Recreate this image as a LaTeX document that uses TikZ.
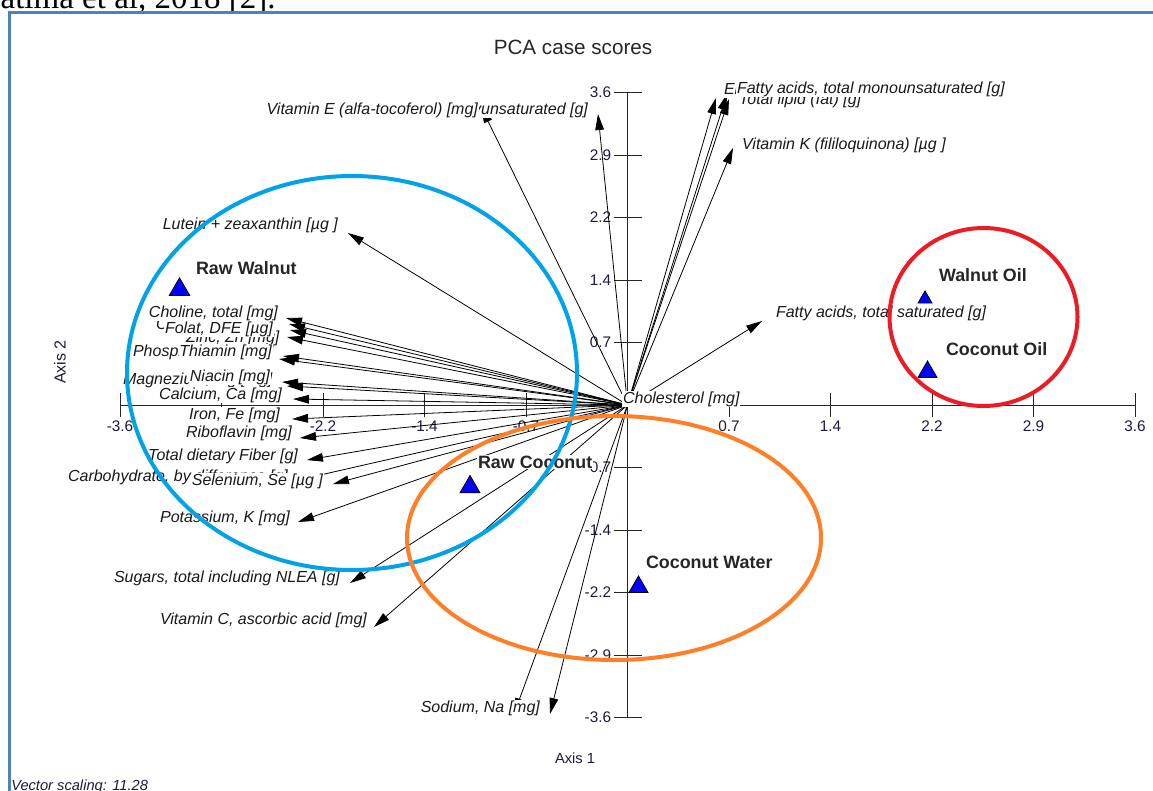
\documentclass[tikz,border=0pt]{standalone}
\usepackage{fontspec}
\setmainfont{Liberation Sans}
\newfontfamily\serifcap{Liberation Serif}
\usetikzlibrary{arrows.meta,shapes.geometric}
\definecolor{paintblue}{RGB}{0,162,232}
\definecolor{paintorange}{RGB}{255,127,39}
\definecolor{paintred}{RGB}{237,28,36}
\definecolor{framecol}{RGB}{79,129,189}
\definecolor{axtext}{RGB}{28,28,60}
\begin{document}
\begin{tikzpicture}[x=0.75pt,y=-0.75pt,
  vec/.style={draw=black, line width=0.6pt, -{Triangle[length=12pt,width=6.5pt]}},
  varlab/.style={font=\fontsize{12}{14}\selectfont\itshape, fill=white, inner sep=0.6pt, text=black!90},
  varL/.style={varlab, anchor=east},
  varR/.style={varlab, anchor=west},
  samplab/.style={font=\fontsize{13.4}{15}\selectfont\bfseries, fill=white, inner sep=0.6pt, anchor=west, text=black!85},
  sampmark/.style={regular polygon, regular polygon sides=3, fill=blue, draw=black, line width=0.6pt, inner sep=0pt},
  ticklab/.style={font=\fontsize{11.5}{13}\selectfont, text=axtext, inner sep=0.5pt},
  axtitle/.style={font=\fontsize{11}{13}\selectfont, text=axtext},
  axisline/.style={draw=black!85, line width=0.75pt},
  ring/.style={line width=3pt},
]
\useasboundingbox (0,0) rectangle (1153,790);
\fill[white] (0,0) rectangle (1153,790);
% caption and frame
\node[anchor=base west, font=\serifcap\fontsize{24.75}{28}\selectfont, inner sep=0pt] (cap) at (-18,8) {Fatima et al, 2018 [2].};
\draw[framecol, line width=1.8pt] (9.5,795) -- (9.5,12.5) -- (1160,12.5);
\node[font=\fontsize{15.5}{18}\selectfont, text=black!85] (title) at (573,47) {PCA case scores};
% axes
\coordinate (O) at (627.5,405);
\coordinate (xl) at (120,405); \coordinate (xr) at (1135,405);
\coordinate (yt) at (627.5,92.5); \coordinate (yb) at (627.5,717.5);
\draw[axisline] (xl) -- (xr);
\draw[axisline] (yt) -- (yb);
\foreach \k in {-5,-4,-3,-2,-1,1,2,3,4,5}{
  \coordinate (xa\k) at (627.5+\k*101.5,393);
  \coordinate (xb\k) at (627.5+\k*101.5,417);
  \draw[axisline] (xa\k) -- (xb\k);
  \coordinate (ya\k) at (613.5,405-\k*62.5);
  \coordinate (yb\k) at (641.5,405-\k*62.5);
  \draw[axisline] (ya\k) -- (yb\k);
}
\foreach \k/\lab in {-5/-3.6,-3/-2.2,-2/-1.4,-1/-0.7,1/0.7,2/1.4,3/2.2,4/2.9,5/3.6}{
  \node[ticklab, anchor=north] (xt\k) at (627.5+\k*101.5,420) {\lab};
}
\foreach \k/\lab in {-5/-3.6,-4/-2.9,-3/-2.2,-2/-1.4,-1/-0.7,1/0.7,2/1.4,3/2.2,4/2.9,5/3.6}{
  \node[ticklab, anchor=east] (yt\k) at (612,405-\k*62.5) {\lab};
}
\node[axtitle] (ax1) at (575,758) {Axis 1};
\node[axtitle, font=\fontsize{12}{14}\selectfont, rotate=90] (ax2) at (60,362) {Axis 2};
\node[anchor=west, font=\fontsize{11}{12}\selectfont\itshape, text=axtext, inner sep=0pt] (vs) at (11,787) {Vector scaling: 11.28};
% vector tips
\coordinate (tCholine) at (286,318);
\coordinate (tCopper) at (289,324);
\coordinate (tFolat) at (290,330);
\coordinate (tZinc) at (287,337);
\coordinate (tPhos) at (283,356);
\coordinate (tThia) at (279,359);
\coordinate (tNiac) at (282,382);
\coordinate (tMagn) at (287,386);
\coordinate (tCalc) at (293,399);
\coordinate (tIron) at (292,419);
\coordinate (tRibo) at (300,438);
\coordinate (tFib) at (307,460);
\coordinate (tCarb) at (285,483);
\coordinate (tSel) at (333,484);
\coordinate (tPot) at (298,522);
\coordinate (tSug) at (350,583);
\coordinate (tVitC) at (374,627);
\coordinate (tNa) at (550,714);
\coordinate (tNa2) at (514,714);
\coordinate (tLut) at (348,233);
\coordinate (tVitE) at (481,107);
\coordinate (tPoly) at (598,114);
\coordinate (tEn) at (716,98);
\coordinate (tLip) at (729,99);
\coordinate (tMono) at (727,94);
\coordinate (tVitK) at (733,148);
\coordinate (tSat) at (762,321);
\foreach \t in {Choline,Copper,Folat,Zinc,Phos,Thia,Niac,Magn,Calc,Iron,Ribo,Fib,Carb,Sel,Pot,Sug,VitC,Na,Na2,Lut,VitE,Poly,En,Lip,Mono,VitK,Sat}{
  \draw[vec] (O) -- (t\t);
}
% labels partly hidden
\node[varR] (lCopper) at (155,325) {Copper, Cu [mg]};
\node[varR] (lZinc) at (185,338) {Zinc, Zn [mg]};
\node[varR] (lPhos) at (132,352) {Phosphorus, P [mg]};
\node[varR] (lMagn) at (122,380) {Magnezium, Mg [mg]};
\node[varR] (lCarb) at (67,477) {Carbohydrate, by difference [g]};
\node[varL] (lPoly) at (589,110) {Fatty acids, total polyunsaturated [g]};
\node[varR] (lEn) at (723,90) {Energy [kcal]};
\node[varR] (lLip) at (738,100) {Total lipid (fat) [g]};
% front labels
\node[varL] (lCholine) at (279,313) {Choline, total [mg]};
\node[varL] (lFolat) at (274,329) {Folat, DFE [µg]};
\node[varL] (lThia) at (273,352) {Thiamin [mg]};
\node[varL] (lNiac) at (271,377) {Niacin [mg]};
\node[varL] (lCalc) at (283,395) {Calcium, Ca [mg]};
\node[varL] (lIron) at (281,415) {Iron, Fe [mg]};
\node[varL] (lRibo) at (293,433) {Riboflavin [mg]};
\node[varL] (lFib) at (299,456) {Total dietary Fiber [g]};
\node[varL] (lSel) at (324,481) {Selenium, Se [µg ]};
\node[varL] (lPot) at (291,518) {Potassium, K [mg]};
\node[varL] (lSug) at (341,578) {Sugars, total including NLEA [g]};
\node[varL] (lVitC) at (368,620) {Vitamin C, ascorbic acid [mg]};
\node[varL] (lNa) at (541,708) {Sodium, Na [mg]};
\node[varL] (lLut) at (339,225) {Lutein + zeaxanthin [µg ]};
\node[varL] (lVitE) at (479,110) {Vitamin E (alfa-tocoferol) [mg]};
\node[varR] (lMono) at (736,89) {Fatty acids, total monounsaturated [g]};
\node[varR] (lVitK) at (741,145) {Vitamin K (fililoquinona) [µg ]};
\node[varR] (lSat) at (775,313) {Fatty acids, total saturated [g]};
\node[varR] (lChol) at (622,399) {Cholesterol [mg]};
% samples
\node[sampmark, minimum size=17.6pt] (sRW) at (179.5,289.5) {};
\node[sampmark, minimum size=12.1pt] (sWO) at (925,299) {};
\node[sampmark, minimum size=16.5pt] (sCO) at (927.5,372) {};
\node[sampmark, minimum size=17.3pt] (sRC) at (470,487) {};
\node[sampmark, minimum size=16.5pt] (sCW) at (638.5,587) {};
\node[samplab] (nRW) at (195,268) {Raw Walnut};
\node[samplab] (nWO) at (938,275) {Walnut Oil};
\node[samplab] (nCO) at (945,349) {Coconut Oil};
\node[samplab] (nRC) at (477,462) {Raw Coconut};
\node[samplab] (nCW) at (645,562) {Coconut Water};
% group rings
\draw[ring, paintblue] (352,373) ellipse [x radius=225, y radius=197];
\draw[ring, paintorange] (614,538) ellipse [x radius=207, y radius=122];
\draw[ring, paintred] (983.5,317) ellipse [x radius=94, y radius=89];
\end{tikzpicture}
\end{document}
